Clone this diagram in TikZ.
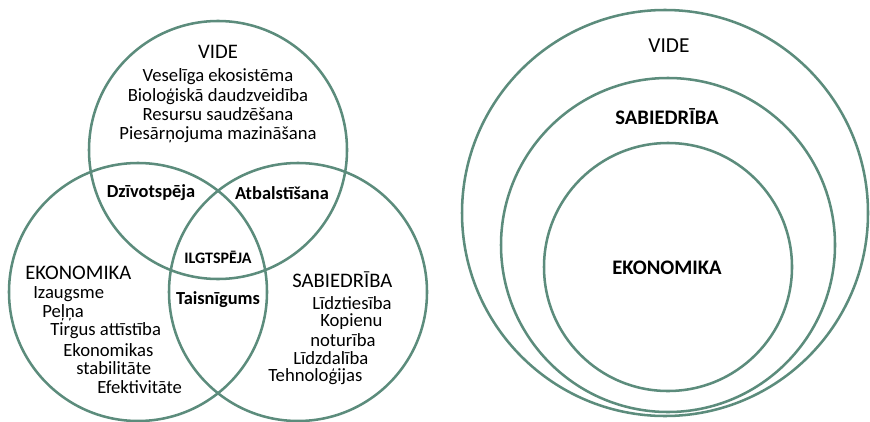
\documentclass[tikz,border=0pt]{standalone}
\usepackage{fontspec}
\setmainfont{Carlito}
\usetikzlibrary{positioning}
\definecolor{ringgreen}{RGB}{92,140,124}

\begin{document}
\begin{tikzpicture}[
      x=0.75pt,
      y=-0.75pt,
      ring/.style={
        circle,
        draw=ringgreen,
        line width=1.9pt,
        inner sep=0pt,
        outer sep=0pt
      },
      title/.style={font=\fontsize{15.5}{18}\selectfont},
      boldtitle/.style={font=\fontsize{15.5}{18}\selectfont\bfseries},
      item/.style={font=\fontsize{14}{14.6}\selectfont, inner sep=0pt, anchor=west},
      overlap/.style={font=\fontsize{13.8}{16}\selectfont\bfseries, inner sep=0pt}
  ]
  \useasboundingbox (0,0) rectangle (870,421);

  % Venn circles
  \node [ring, minimum size=193.5pt] (vide) at (218,150) {};
  \node [ring, minimum size=193.5pt] (eko) at (138,292) {};
  \node [ring, minimum size=193.5pt] (sab) at (298,292) {};

  % Nested circles
  \node [ring, minimum size=304.5pt] (outer) at (665,213) {};
  \node [ring, minimum size=250.5pt] (middle) at (668,245) {};
  \node [ring, minimum size=186pt] (inner) at (668,267) {};

  % VIDE
  \node [title] (videtitle) at (218,52) {VIDE};
  \node [item, anchor=center, align=center] (videtext) at (218,106)
    {Veselīga ekosistēma\\Bioloģiskā daudzveidība\\Resursu saudzēšana\\Piesārņojuma mazināšana};

  % EKONOMIKA
  \node [title, inner sep=0pt, anchor=west] (ekotitle) at (25,273) {EKONOMIKA};
  \node [item] (eko1) at (33,294) {Izaugsme};
  \node [item] (eko2) at (42,313) {Peļņa};
  \node [item] (eko3) at (50,331) {Tirgus attīstība};
  \node [item] (eko4) at (63,350) {Ekonomikas};
  \node [item] (eko5) at (76,368) {stabilitāte};
  \node [item] (eko6) at (97,387) {Efektivitāte};

  % SABIEDRIBA
  \node [title, inner sep=0pt, anchor=west] (sabtitle) at (292,280) {SABIEDRĪBA};
  \node [item] (sab1) at (312,303) {Līdztiesība};
  \node [item] (sab2) at (320,322) {Kopienu};
  \node [item] (sab3) at (310,340) {noturība};
  \node [item] (sab4) at (293,358) {Līdzdalība};
  \node [item] (sab5) at (268,377) {Tehnoloģijas};

  % Overlaps
  \node [overlap] (dziv) at (151,193) {Dzīvotspēja};
  \node [overlap] (atb) at (282,193) {Atbalstīšana};
  \node [overlap, font=\fontsize{12}{14}\selectfont\bfseries] (ilgt) at (218,257) {ILGTSPĒJA};
  \node [overlap] (tais) at (218,300) {Taisnīgums};

  % Nested labels
  \node [title, font=\fontsize{16}{18}\selectfont] (outerlabel) at (669,46) {VIDE};
  \node [boldtitle] (middlelabel) at (667,117) {SABIEDRĪBA};
  \node [boldtitle] (innerlabel) at (667,268) {EKONOMIKA};

\end{tikzpicture}
\end{document}
